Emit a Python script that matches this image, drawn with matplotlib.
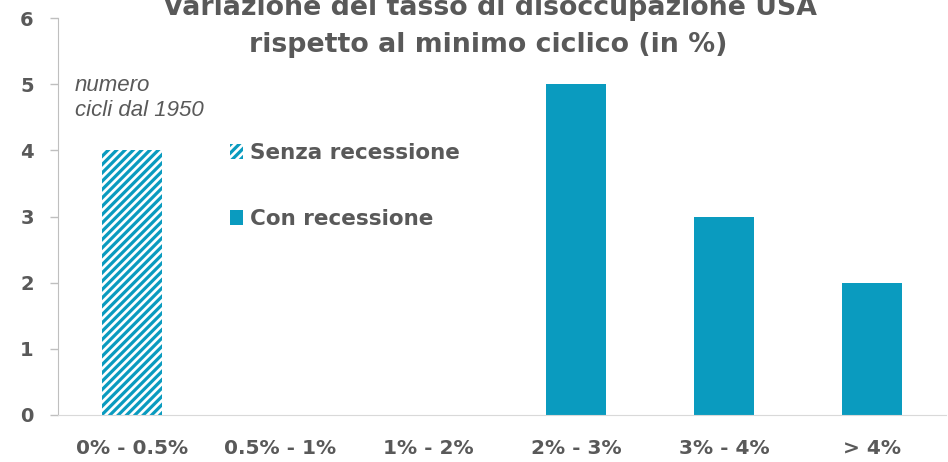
import matplotlib
matplotlib.use("Agg")
import matplotlib.pyplot as plt
from matplotlib.patches import Patch

categories = ["0% - 0.5%", "0.5% - 1%", "1% - 2%", "2% - 3%", "3% - 4%", "> 4%"]
senza_recessione = [4, 0, 0, 0, 0, 0]
con_recessione = [0, 0, 0, 5, 3, 2]
yticks = [0, 1, 2, 3, 4, 5, 6]

FONT = "DejaVu Sans"
TEAL = "#0A9BBF"
GRAY = "#595959"
plt.rcParams["hatch.linewidth"] = 2.3

fig = plt.figure(figsize=(9.48, 4.62), dpi=100)
ax = fig.add_axes([58/948, 47/462, 1 - 58/948 - 2/948, (415-18)/462])

x = list(range(len(categories)))
ax.bar(x, senza_recessione, width=0.4, color="white", edgecolor=TEAL, hatch="////", linewidth=0)
ax.bar(x, con_recessione, width=0.4, color=TEAL, linewidth=0)

ax.set_xlim(-0.5, len(categories) - 0.5)
ax.set_ylim(0, 6)
ax.set_yticks(yticks)
ax.set_yticklabels([str(v) for v in yticks], fontfamily=FONT, fontweight="bold", fontsize=14, color=GRAY)
ax.set_xticks(x)
ax.set_xticklabels(categories, fontfamily=FONT, fontweight="bold", fontsize=14.5, color=GRAY)
ax.tick_params(axis="x", length=0, pad=17.5)
ax.tick_params(axis="y", length=5.5, width=1, color="#BFBFBF", pad=12)
for s in ["top", "right"]:
    ax.spines[s].set_visible(False)
ax.spines["left"].set_color("#BFBFBF")
ax.spines["bottom"].set_color("#D9D9D9")

fig.text(490/948, 1 - 8/462, "Variazione del tasso di disoccupazione USA", ha="center", va="center",
         fontfamily=FONT, fontweight="bold", fontsize=19.3, color=GRAY)
fig.text(488/948, 1 - 45/462, "rispetto al minimo ciclico (in %)", ha="center", va="center",
         fontfamily=FONT, fontweight="bold", fontsize=19.3, color=GRAY)

fig.text(75/948, 1 - 98/462, "numero\ncicli dal 1950", ha="left", va="center", fontstyle="italic",
         fontsize=16, color=GRAY, linespacing=1.25, fontfamily="Liberation Sans")

handles = [Patch(facecolor="white", edgecolor=TEAL, hatch="////", linewidth=0, label="Senza recessione"),
           Patch(facecolor=TEAL, linewidth=0, label="Con recessione")]
leg = fig.legend(handles=handles, loc="upper left", bbox_to_anchor=(211/948, 1 - 124/462), frameon=False,
                 handlelength=0.6, handleheight=0.7, handletextpad=0.3, labelspacing=2.13,
                 prop={"family": FONT, "weight": "bold", "size": 15.5})
for t in leg.get_texts():
    t.set_color(GRAY)

fig.savefig("out.png", dpi=100)
